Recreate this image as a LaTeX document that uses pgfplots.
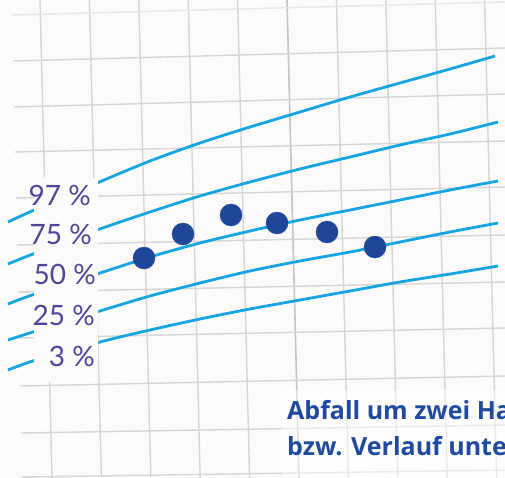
\documentclass[border=0pt]{standalone}
\usepackage{pgfplots}
\pgfplotsset{compat=1.18}
\usepackage{fontspec}
\setmainfont{Lato}
\newfontfamily\labfont{Lato}
\newfontfamily\boldfont{Open Sans}
\definecolor{bgcol}{RGB}{252,251,249}
\definecolor{gridcol}{RGB}{214,214,214}
\definecolor{curvecol}{RGB}{20,165,226}
\definecolor{dotcol}{RGB}{31,70,152}
\definecolor{labcol}{RGB}{81,68,154}
\definecolor{txtcol}{RGB}{32,73,160}
\begin{document}
\begin{tikzpicture}
\begin{axis}[name=ax, width=505pt, height=478pt, scale only axis,
  xmin=0, xmax=505, ymin=0, ymax=478, y dir=reverse, hide axis, clip=true]
% background
\addplot[fill=bgcol, draw=none] coordinates {(0,0) (505,0) (505,478) (0,478)} \closedcycle;
% vertical grid lines
\addplot[gridcol, line width=1.4pt] coordinates {(40,0) (52,478)};
\addplot[gridcol, line width=1.4pt] coordinates {(89.4,0) (101.4,478)};
\addplot[gridcol, line width=1.4pt] coordinates {(138.8,0) (150.8,478)};
\addplot[gridcol, line width=1.4pt] coordinates {(188.2,0) (200.2,478)};
\addplot[gridcol, line width=1.4pt] coordinates {(237.6,0) (249.6,478)};
\addplot[gridcol!80!gray, line width=1.6pt] coordinates {(287,0) (299,478)};
\addplot[gridcol, line width=1.4pt] coordinates {(336.4,0) (348.4,478)};
\addplot[gridcol, line width=1.4pt] coordinates {(385.8,0) (397.8,478)};
\addplot[gridcol, line width=1.4pt] coordinates {(435.2,0) (447.2,478)};
\addplot[gridcol, line width=1.4pt] coordinates {(484.6,0) (496.6,478)};
% horizontal grid lines
\addplot[gridcol!60, line width=1.4pt] coordinates {(12,15) (505,2)};
\addplot[gridcol, line width=1.4pt] coordinates {(13,61) (505,48)};
\addplot[gridcol, line width=1.4pt] coordinates {(14,107) (505,94)};
\addplot[gridcol, line width=1.4pt] coordinates {(15,152) (505,141)};
\addplot[gridcol, line width=1.4pt] coordinates {(16,198) (505,187)};
\addplot[gridcol, line width=1.4pt] coordinates {(17,245) (505,235)};
\addplot[gridcol, line width=1.4pt] coordinates {(18,292) (505,282)};
\addplot[gridcol, line width=1.4pt] coordinates {(19,338) (505,328)};
\addplot[gridcol, line width=1.4pt] coordinates {(20,386) (505,376)};
\addplot[gridcol, line width=1.4pt] coordinates {(21,433) (505,425)};
\addplot[gridcol, line width=1.4pt] coordinates {(22,477) (505,470)};
% percentile curves
\addplot[curvecol, line width=2.8pt, smooth] coordinates {(8,222) (32,211) (97,183) (150,161) (200,143) (250,127) (300,112) (350,97) (400,83) (450,69) (495,56)};
\addplot[curvecol, line width=2.8pt, smooth] coordinates {(8,264) (33,254) (97,230) (150,212) (200,196) (250,182) (300,169) (350,157) (400,145) (450,134) (498,122)};
\addplot[curvecol, line width=2.8pt, smooth] coordinates {(8,304) (35,294) (100,273) (150,257) (200,243) (250,231) (300,220) (350,210) (400,200) (450,190) (498,181)};
\addplot[curvecol, line width=2.8pt, smooth] coordinates {(8,340) (36,331) (100,311) (150,296) (200,283) (250,271) (300,261) (350,252) (400,242) (450,232) (498,223)};
\addplot[curvecol, line width=2.8pt, smooth] coordinates {(8,370) (36,360) (100,342) (150,330) (200,319) (250,309) (300,300) (350,291) (400,282) (450,274) (498,266)};
% label box
\addplot[fill=bgcol, draw=none] coordinates {(34,178) (98,178) (98,382) (34,382)} \closedcycle;
% haze behind text
\addplot[fill=white, fill opacity=0.5, draw=none] coordinates {(282,390) (505,390) (505,478) (282,478)} \closedcycle;
% dots
\addplot[only marks, mark=*, mark size=11pt, mark options={fill=dotcol, draw=dotcol}] coordinates {(144,258) (183,234) (231,215) (277,223) (327,232) (375,247)};
% labels
\node[anchor=east, inner sep=0pt, text=labcol, font=\labfont\fontsize{28}{30}\selectfont] at (axis cs:91,195) {97 \%};
\node[anchor=east, inner sep=0pt, text=labcol, font=\labfont\fontsize{28}{30}\selectfont] at (axis cs:92,234) {75 \%};
\node[anchor=east, inner sep=0pt, text=labcol, font=\labfont\fontsize{28}{30}\selectfont] at (axis cs:96,274) {50 \%};
\node[anchor=east, inner sep=0pt, text=labcol, font=\labfont\fontsize{28}{30}\selectfont] at (axis cs:95,315) {25 \%};
\node[anchor=east, inner sep=0pt, text=labcol, font=\labfont\fontsize{28}{30}\selectfont] at (axis cs:95,356) {3 \%};
\node[anchor=base west, inner sep=0pt, text=txtcol, font=\boldfont\bfseries\fontsize{25}{27}\selectfont] at (axis cs:287,419) {Abfall um zwei Hauptperzentilen};
\node[anchor=base west, inner sep=0pt, text=txtcol, font=\boldfont\bfseries\fontsize{25}{27}\selectfont] at (axis cs:287,455) {bzw. Verlauf unterhalb};
\end{axis}
\pgfresetboundingbox
\path[use as bounding box] (ax.south west) rectangle (ax.north east);
\end{tikzpicture}
\end{document}
